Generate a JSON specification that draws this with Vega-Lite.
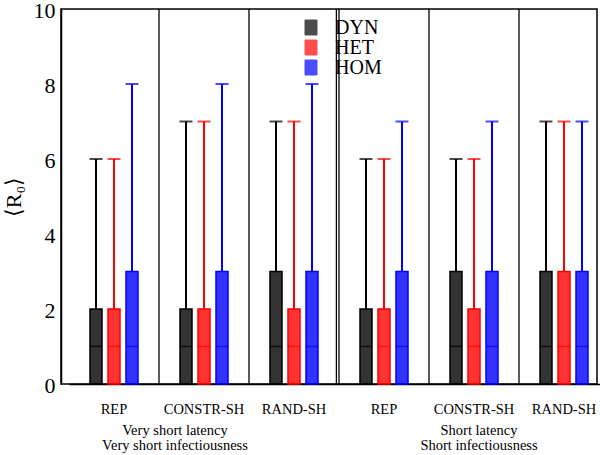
{
  "$schema": "https://vega.github.io/schema/vega-lite/v6.json",
  "width": 536,
  "height": 375,
  "autosize": {"type": "none"},
  "padding": {"left": 61, "top": 9, "right": 3, "bottom": 71},
  "background": "white",
  "config": {
    "view": {"stroke": "black", "strokeWidth": 1.5},
    "font": "Liberation Serif"
  },
  "datasets": {
    "stats": [
      {"g": "1", "type": "DYN", "min": 0, "median": 1, "q3": 2, "max": 6},
      {"g": "1", "type": "HET", "min": 0, "median": 1, "q3": 2, "max": 6},
      {"g": "1", "type": "HOM", "min": 0, "median": 1, "q3": 3, "max": 8},
      {"g": "2", "type": "DYN", "min": 0, "median": 1, "q3": 2, "max": 7},
      {"g": "2", "type": "HET", "min": 0, "median": 1, "q3": 2, "max": 7},
      {"g": "2", "type": "HOM", "min": 0, "median": 1, "q3": 3, "max": 8},
      {"g": "3", "type": "DYN", "min": 0, "median": 1, "q3": 3, "max": 7},
      {"g": "3", "type": "HET", "min": 0, "median": 1, "q3": 2, "max": 7},
      {"g": "3", "type": "HOM", "min": 0, "median": 1, "q3": 3, "max": 8},
      {"g": "4", "type": "DYN", "min": 0, "median": 1, "q3": 2, "max": 6},
      {"g": "4", "type": "HET", "min": 0, "median": 1, "q3": 2, "max": 6},
      {"g": "4", "type": "HOM", "min": 0, "median": 1, "q3": 3, "max": 7},
      {"g": "5", "type": "DYN", "min": 0, "median": 1, "q3": 3, "max": 6},
      {"g": "5", "type": "HET", "min": 0, "median": 1, "q3": 2, "max": 6},
      {"g": "5", "type": "HOM", "min": 0, "median": 1, "q3": 3, "max": 7},
      {"g": "6", "type": "DYN", "min": 0, "median": 1, "q3": 3, "max": 7},
      {"g": "6", "type": "HET", "min": 0, "median": 1, "q3": 3, "max": 7},
      {"g": "6", "type": "HOM", "min": 0, "median": 1, "q3": 3, "max": 7}
    ],
    "seps": [{"g": "1"}, {"g": "2"}, {"g": "3"}, {"g": "4"}, {"g": "5"}],
    "dbl": [{"g": "3"}]
  },
  "resolve": {"axis": {"y": "independent"}},
  "encoding": {
    "x": {"field": "g", "type": "nominal",
          "scale": {"type": "band", "domain": ["1","2","3","4","5","6"], "range": [8, 548], "paddingInner": 0, "paddingOuter": 0},
          "axis": {"title": null, "ticks": false, "tickSize": 0, "labelAngle": 0, "labelPadding": 18, "labelFont": "Liberation Serif", "labelFontSize": 14.5, "labelColor": "black", "domainColor": "black", "domainWidth": 1.5, "grid": false,
                   "labelExpr": "datum.value == '1' || datum.value == '4' ? 'REP' : (datum.value == '2' || datum.value == '5' ? 'CONSTR-SH' : 'RAND-SH')"}}
  },
  "layer": [
    {
      "data": {"name": "seps"},
      "mark": {"type": "rule", "color": "black", "strokeWidth": 1.3},
      "encoding": {
        "x": {"field": "g", "type": "nominal", "bandPosition": 1,
              "axis": {"title": null, "ticks": false, "tickSize": 0, "labelAngle": 0, "labelPadding": 18, "labelFont": "Liberation Serif", "labelFontSize": 14.5, "labelColor": "black", "domainColor": "black", "domainWidth": 1.5, "grid": false,
                       "labelExpr": "datum.value == '1' || datum.value == '4' ? 'REP' : (datum.value == '2' || datum.value == '5' ? 'CONSTR-SH' : 'RAND-SH')"}}
      }
    },
    {
      "data": {"name": "dbl"},
      "mark": {"type": "rule", "color": "black", "strokeWidth": 1.3, "xOffset": -2.6},
      "encoding": {
        "x": {"field": "g", "type": "nominal", "bandPosition": 1,
              "axis": {"title": null, "ticks": false, "tickSize": 0, "labelAngle": 0, "labelPadding": 18, "labelFont": "Liberation Serif", "labelFontSize": 14.5, "labelColor": "black", "domainColor": "black", "domainWidth": 1.5, "grid": false,
                       "labelExpr": "datum.value == '1' || datum.value == '4' ? 'REP' : (datum.value == '2' || datum.value == '5' ? 'CONSTR-SH' : 'RAND-SH')"}}
      }
    },
    {
      "data": {"name": "stats"},
      "mark": {"type": "rule", "strokeWidth": 2},
      "encoding": {
        "xOffset": {"field": "type", "type": "nominal", "scale": {"domain": ["DYN","HET","HOM"], "range": [21, 69], "paddingInner": 0.3333, "paddingOuter": 0}},
        "y": {"field": "q3", "type": "quantitative", "scale": {"domain": [0, 10], "nice": false}, "axis": null},
        "y2": {"field": "max"},
        "color": {"field": "type", "type": "nominal", "title": null, "scale": {"domain": ["DYN","HET","HOM"], "range": ["#000000", "#ff0000", "#0000ff"]}}
      }
    },
    {
      "data": {"name": "stats"},
      "mark": {"type": "bar", "strokeWidth": 1.5, "fillOpacity": 0.8},
      "encoding": {
        "xOffset": {"field": "type", "type": "nominal"},
        "y": {"field": "q3", "type": "quantitative",
              "axis": {"orient": "left", "values": [0,1,2,3,4,5,6,7,8,9,10], "grid": false, "tickSize": 0, "labelPadding": 6, "labelOffset": 1.5,
                       "labelExpr": "datum.value % 2 === 0 ? datum.label : ''",
                       "labelFont": "Liberation Serif", "labelFontSize": 22, "labelColor": "black",
                       "domainColor": "black", "domainWidth": 1.5, "tickColor": "black", "tickWidth": 1.2,
                       "title": "⟨R₀⟩", "titleFont": "Liberation Serif", "titleFontSize": 22, "titleFontWeight": "normal", "titleColor": "black", "titlePadding": 8,
                       "encode": {"ticks": {"update": {"x2": {"signal": "datum.value % 2 === 0 ? 10 : 5"}}}}}},
        "y2": {"field": "min"},
        "color": {"field": "type", "type": "nominal", "title": null,
                  "legend": {"orient": "none", "legendX": 240, "legendY": 9.5, "padding": 0, "title": null,
                             "symbolType": "M-0.8,-1H0.8V1H-0.8Z", "symbolSize": 225, "symbolStrokeWidth": 1, "symbolOpacity": 0.85,
                             "labelFont": "Liberation Serif", "labelFontSize": 20, "labelColor": "black", "labelOffset": 14, "rowPadding": 0, "clipHeight": 18}},
        "stroke": {"field": "type", "type": "nominal", "title": null, "scale": {"domain": ["DYN","HET","HOM"], "range": ["#000000", "#ff0000", "#0000ff"]},
                   "legend": {"orient": "none", "legendX": 240, "legendY": 9.5, "padding": 0, "title": null,
                              "symbolType": "M-0.8,-1H0.8V1H-0.8Z", "symbolSize": 225, "symbolStrokeWidth": 1,
                              "labelFont": "Liberation Serif", "labelFontSize": 20, "labelColor": "black", "labelOffset": 14, "rowPadding": 0, "clipHeight": 18}}
      }
    },
    {
      "data": {"name": "stats"},
      "mark": {"type": "tick", "size": 12, "thickness": 1.5},
      "encoding": {
        "xOffset": {"field": "type", "type": "nominal"},
        "y": {"field": "median", "type": "quantitative",
              "axis": {"orient": "right", "values": [0,1,2,3,4,5,6,7,8,9,10], "labels": false, "domain": false, "grid": false, "tickSize": 0, "title": null,
                       "tickColor": "black", "tickWidth": 1.2,
                       "encode": {"ticks": {"update": {"x2": {"signal": "datum.value % 2 === 0 ? -10 : -5"}}}}}},
        "color": {"field": "type", "type": "nominal", "title": null}
      }
    },
    {
      "data": {"name": "stats"},
      "mark": {"type": "tick", "size": 13, "thickness": 2},
      "encoding": {
        "xOffset": {"field": "type", "type": "nominal"},
        "y": {"field": "max", "type": "quantitative", "axis": null},
        "color": {"field": "type", "type": "nominal", "title": null}
      }
    },
    {
      "data": {"values": [{"g": "2", "label": "Very short latency\nVery short infectiousness"}]},
      "mark": {"type": "text", "y": "height", "dy": 51, "dx": -29, "lineBreak": "\n", "lineHeight": 15, "font": "Liberation Serif", "fontSize": 14.5, "align": "center", "baseline": "alphabetic", "color": "black"},
      "encoding": {
        "text": {"field": "label"}
      }
    },
    {
      "data": {"values": [{"g": "5", "label": "Short latency\nShort infectiousness"}]},
      "mark": {"type": "text", "y": "height", "dy": 51, "dx": 5, "lineBreak": "\n", "lineHeight": 15, "font": "Liberation Serif", "fontSize": 14.5, "align": "center", "baseline": "alphabetic", "color": "black"},
      "encoding": {
        "text": {"field": "label"}
      }
    }
  ]
}
